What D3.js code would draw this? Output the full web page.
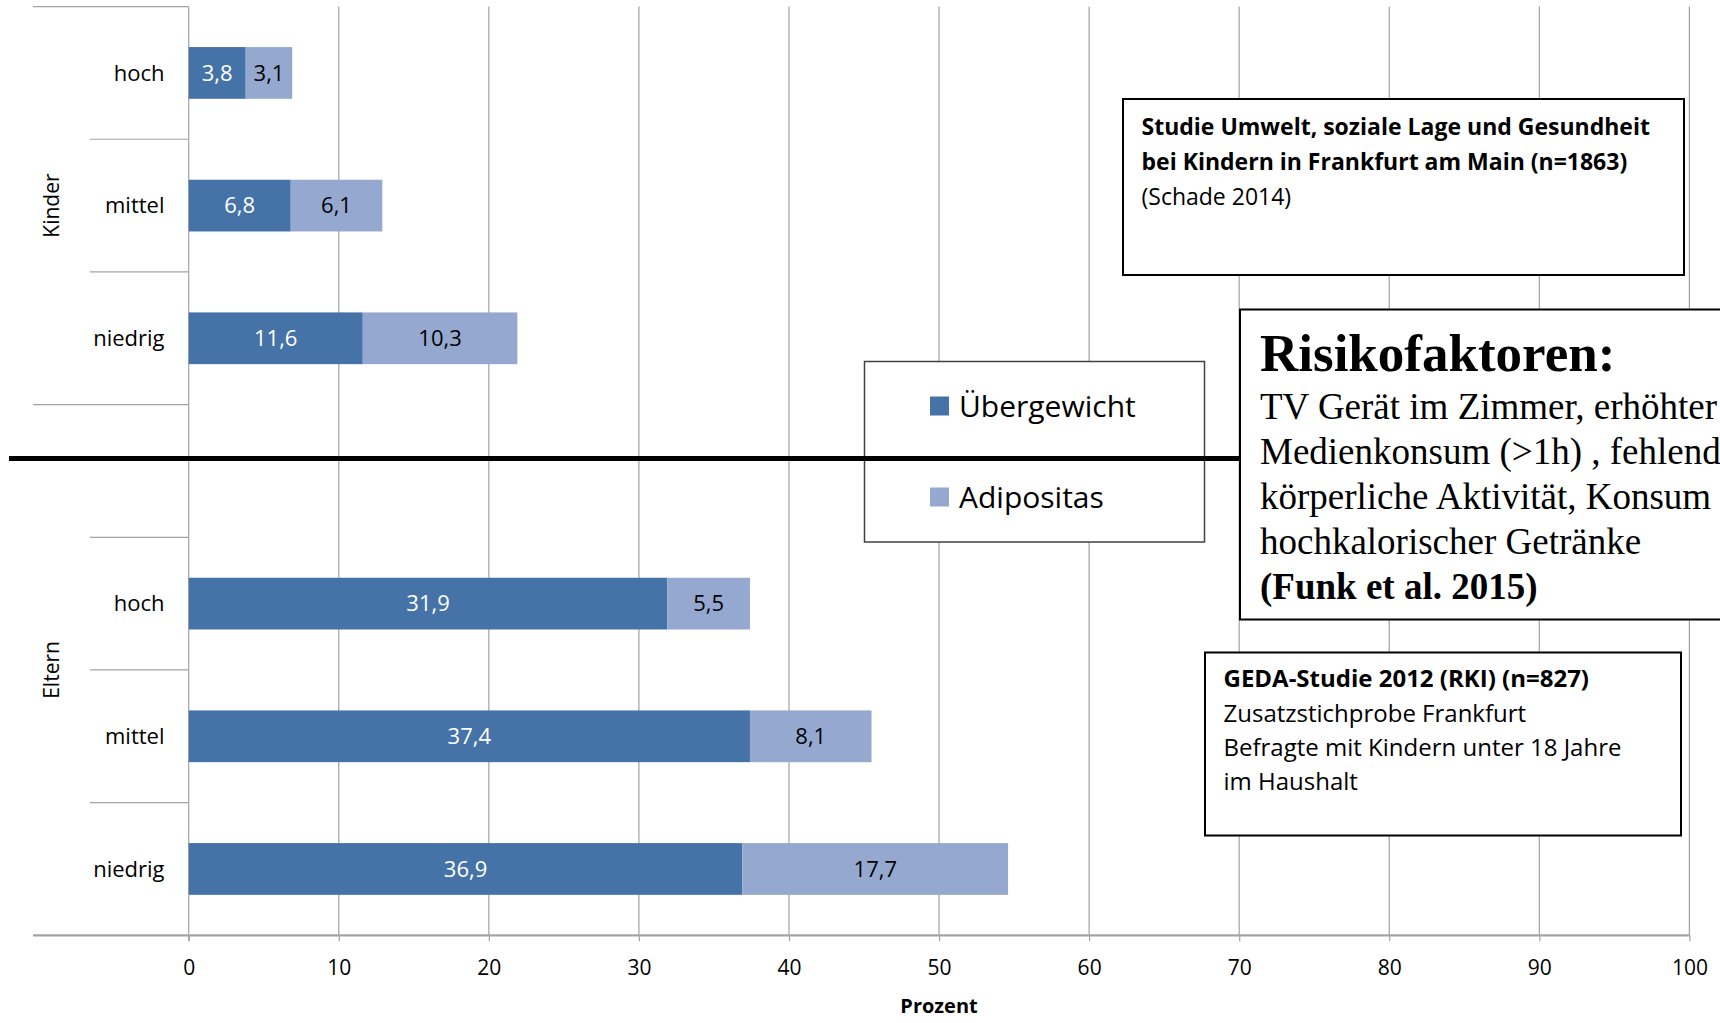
<!DOCTYPE html>
<html>
<head>
<meta charset="utf-8">
<script src="https://cdn.jsdelivr.net/npm/d3@7"></script>
<style>
  html, body { margin: 0; padding: 0; background: #fff; overflow: hidden; }
  svg { display: block; }
  text { font-family: "Open Sans", "DejaVu Sans", sans-serif; fill: #000; }
</style>
</head>
<body>
<svg id="chart" width="1720" height="1023"></svg>
<script>
// Social status categories within each group
const categories = ["hoch", "mittel", "niedrig"];
const groups = ["Kinder", "Eltern"];

// Prevalence in percent, per group, ordered like `categories`
const uebergewichtKinder = [3.8, 6.8, 11.6];
const adipositasKinder = [3.1, 6.1, 10.3];
const uebergewichtEltern = [31.9, 37.4, 36.9];
const adipositasEltern = [5.5, 8.1, 17.7];

const seriesNames = ["Übergewicht", "Adipositas"];
const seriesColors = ["#4673a7", "#95a9d0"];
const labelColors = ["#ffffff", "#000000"];

const xTicks = [0, 10, 20, 30, 40, 50, 60, 70, 80, 90, 100];
const xTitle = "Prozent";

const studyKinder = ["Studie Umwelt, soziale Lage und Gesundheit",
                     "bei Kindern in Frankfurt am Main (n=1863)",
                     "(Schade 2014)"];
const studyEltern = ["GEDA-Studie 2012 (RKI) (n=827)",
                     "Zusatzstichprobe Frankfurt",
                     "Befragte mit Kindern unter 18 Jahre",
                     "im Haushalt"];
const riskTitle = "Risikofaktoren:";
const riskLines = ["TV Gerät im Zimmer, erhöhter",
                   "Medienkonsum (>1h) , fehlende",
                   "körperliche Aktivität, Konsum",
                   "hochkalorischer Getränke"];
const riskSource = "(Funk et al. 2015)";

// Rows from top to bottom; the Eltern group starts with an empty slot
const rows = [
  { key: "Kinder|hoch",   group: "Kinder", cat: "hoch",    u: uebergewichtKinder[0], a: adipositasKinder[0] },
  { key: "Kinder|mittel", group: "Kinder", cat: "mittel",  u: uebergewichtKinder[1], a: adipositasKinder[1] },
  { key: "Kinder|niedrig",group: "Kinder", cat: "niedrig", u: uebergewichtKinder[2], a: adipositasKinder[2] },
  { key: "Eltern|",       group: "Eltern", cat: "",        u: null, a: null },
  { key: "Eltern|hoch",   group: "Eltern", cat: "hoch",    u: uebergewichtEltern[0], a: adipositasEltern[0] },
  { key: "Eltern|mittel", group: "Eltern", cat: "mittel",  u: uebergewichtEltern[1], a: adipositasEltern[1] },
  { key: "Eltern|niedrig",group: "Eltern", cat: "niedrig", u: uebergewichtEltern[2], a: adipositasEltern[2] }
];

const svg = d3.select("#chart");
const plot = { left: 188.7, right: 1689.4, top: 6.6, bottom: 935.3 };

const x = d3.scaleLinear().domain([0, 100]).range([plot.left, plot.right]);
const y = d3.scaleBand().domain(rows.map(r => r.key)).range([plot.top, plot.bottom]).padding(0);
const barH = y.bandwidth() * 0.39;

const gridColor = "#a3a3a3";

// Vertical gridlines
svg.append("g")
  .selectAll("line")
  .data(xTicks.filter(t => t > 0))
  .join("line")
  .attr("x1", d => x(d)).attr("x2", d => x(d))
  .attr("y1", plot.top).attr("y2", plot.bottom)
  .attr("stroke", gridColor).attr("stroke-width", 1.2);

// Bottom axis with tick labels
const xAxis = d3.axisBottom(x)
  .tickValues(xTicks)
  .tickFormat(d3.format("d"))
  .tickSizeInner(6).tickSizeOuter(0).tickPadding(19);
const gx = svg.append("g").attr("transform", `translate(0,${plot.bottom})`).call(xAxis);
gx.select(".domain").remove();
gx.selectAll(".tick line").attr("stroke", gridColor).attr("stroke-width", 1.2);
gx.selectAll(".tick text").attr("font-size", 21).attr("fill", "#000")
  .style("font-family", '"Open Sans", sans-serif');

svg.append("line")
  .attr("x1", 33).attr("x2", plot.right)
  .attr("y1", plot.bottom).attr("y2", plot.bottom)
  .attr("stroke", gridColor).attr("stroke-width", 2.2);

svg.append("text")
  .attr("x", (x(0) + x(100)) / 2).attr("y", 1006)
  .attr("dy", "0.35em")
  .attr("text-anchor", "middle")
  .attr("font-size", 20).attr("font-weight", 700)
  .text(xTitle);

// Vertical category axis and row separators
svg.append("line")
  .attr("x1", plot.left).attr("x2", plot.left)
  .attr("y1", plot.top).attr("y2", plot.bottom + 6)
  .attr("stroke", gridColor).attr("stroke-width", 1.2);

const boundaries = d3.range(rows.length);
svg.append("g")
  .selectAll("line")
  .data(boundaries)
  .join("line")
  .attr("x1", i => (i === 0 || i === 3) ? 33 : 90)
  .attr("x2", plot.left)
  .attr("y1", i => y(rows[i].key))
  .attr("y2", i => y(rows[i].key))
  .attr("stroke", gridColor).attr("stroke-width", 1.2);

// Category labels
svg.append("g")
  .selectAll("text")
  .data(rows.filter(r => r.cat))
  .join("text")
  .attr("x", 164.5)
  .attr("y", r => y(r.key) + y.bandwidth() / 2)
  .attr("dy", "0.35em")
  .attr("text-anchor", "end")
  .attr("font-size", 22)
  .text(r => r.cat);

// Group labels, rotated
groups.forEach(g => {
  const keys = rows.filter(r => r.group === g).map(r => r.key);
  const cy = (y(keys[0]) + y(keys[keys.length - 1]) + y.bandwidth()) / 2;
  svg.append("text")
    .attr("transform", `translate(52,${cy}) rotate(-90)`)
    .attr("dy", "0.35em")
    .attr("text-anchor", "middle")
    .attr("font-size", 21)
    .text(g);
});

// Stacked bars
const barRows = rows.filter(r => r.u !== null);
const stackData = barRows.map(r => ({ key: r.key, [seriesNames[0]]: r.u, [seriesNames[1]]: r.a }));
const stacked = d3.stack().keys(seriesNames)(stackData);

const layers = svg.append("g")
  .selectAll("g")
  .data(stacked)
  .join("g")
  .attr("fill", (d, i) => seriesColors[i]);

layers.selectAll("rect")
  .data(d => d)
  .join("rect")
  .attr("x", d => x(d[0]))
  .attr("width", d => x(d[1]) - x(d[0]))
  .attr("y", d => y(d.data.key) + (y.bandwidth() - barH) / 2)
  .attr("height", barH);

// Value labels centred in each segment
const fmt = v => d3.format(".1f")(v).replace(".", ",");
stacked.forEach((layer, i) => {
  svg.append("g")
    .selectAll("text")
    .data(layer)
    .join("text")
    .attr("x", d => (x(d[0]) + x(d[1])) / 2)
    .attr("y", d => y(d.data.key) + y.bandwidth() / 2)
    .attr("dy", "0.35em")
    .attr("text-anchor", "middle")
    .attr("font-size", 22)
    .style("fill", labelColors[i])
    .text(d => fmt(d[1] - d[0]));
});

// Legend
const legend = svg.append("g");
legend.append("rect")
  .attr("x", 864.5).attr("y", 361.5).attr("width", 340).attr("height", 180.5)
  .attr("fill", "#fff").attr("stroke", "#404040").attr("stroke-width", 1.5);
const legendY = [406, 497];
seriesNames.forEach((name, i) => {
  legend.append("rect")
    .attr("x", 930).attr("y", legendY[i] - 9.5).attr("width", 19).attr("height", 19)
    .attr("fill", seriesColors[i]);
  legend.append("text")
    .attr("x", 959).attr("y", legendY[i])
    .attr("dy", "0.35em")
    .attr("font-size", 30)
    .text(name);
});

// Divider between Kinder and Eltern panels
svg.append("line")
  .attr("x1", 9).attr("x2", 1240)
  .attr("y1", 458.5).attr("y2", 458.5)
  .attr("stroke", "#000").attr("stroke-width", 5);

// Study note, children
const box1 = svg.append("g");
box1.append("rect")
  .attr("x", 1123).attr("y", 99).attr("width", 561).attr("height", 176)
  .attr("fill", "#fff").attr("stroke", "#000").attr("stroke-width", 2);
box1.selectAll("text")
  .data(studyKinder)
  .join("text")
  .attr("x", 1141.5)
  .attr("y", (d, i) => 127.2 + i * 35)
  .attr("dy", "0.35em")
  .attr("font-size", (d, i) => i < 2 ? 23 : 23)
  .attr("font-weight", (d, i) => i < 2 ? 700 : 400)
  .text(d => d);

// Risk factors note
const box2 = svg.append("g");
box2.append("rect")
  .attr("x", 1240).attr("y", 309.5).attr("width", 520).attr("height", 310)
  .attr("fill", "#fff").attr("stroke", "#000").attr("stroke-width", 2);
box2.append("text")
  .attr("x", 1260).attr("y", 370.5)
  .style("font-family", '"Liberation Serif", "Times New Roman", serif')
  .attr("font-size", 53).attr("font-weight", 700)
  .text(riskTitle);
box2.selectAll("text.line")
  .data(riskLines)
  .join("text")
  .attr("class", "line")
  .attr("x", 1260)
  .attr("y", (d, i) => 419 + i * 45)
  .style("font-family", '"Liberation Serif", "Times New Roman", serif')
  .attr("font-size", 37)
  .text(d => d);
box2.append("text")
  .attr("x", 1260).attr("y", 419 + 4 * 45)
  .style("font-family", '"Liberation Serif", "Times New Roman", serif')
  .attr("font-size", 37).attr("font-weight", 700)
  .text(riskSource);

// Study note, parents
const box3 = svg.append("g");
box3.append("rect")
  .attr("x", 1205).attr("y", 652.5).attr("width", 476).attr("height", 183)
  .attr("fill", "#fff").attr("stroke", "#000").attr("stroke-width", 2);
box3.selectAll("text")
  .data(studyEltern)
  .join("text")
  .attr("x", 1223.5)
  .attr("y", (d, i) => 678.7 + i * 34.4)
  .attr("dy", "0.35em")
  .attr("font-size", 24)
  .attr("font-weight", (d, i) => i === 0 ? 700 : 400)
  .text(d => d);
</script>
</body>
</html>
